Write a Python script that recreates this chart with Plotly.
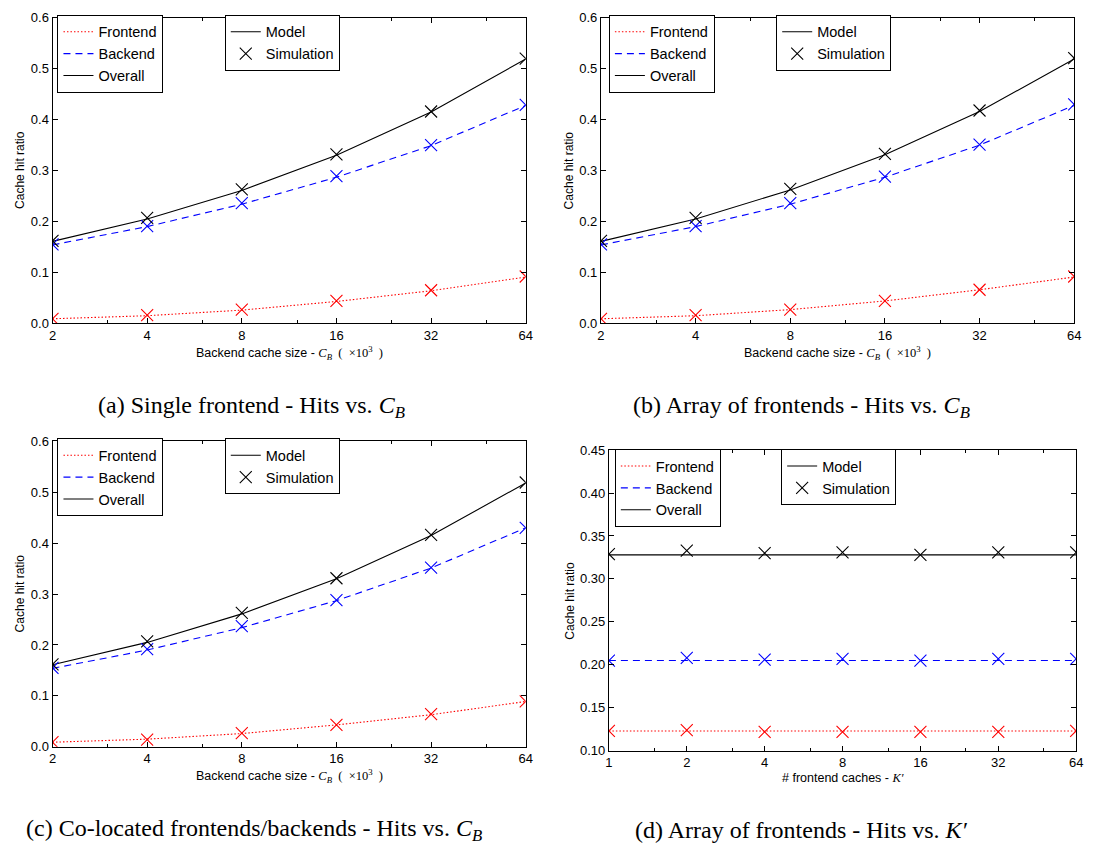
import math
import plotly.graph_objects as go

# ---------------- data ----------------
cb_sizes = [2, 4, 8, 16, 32, 64]
k_fronts = [1, 2, 4, 8, 16, 32, 64]
cb_ticks = ["2", "4", "8", "16", "32", "64"]
k_ticks = ["1", "2", "4", "8", "16", "32", "64"]

# (a) Single frontend
a_front_model = [0.009, 0.015, 0.026, 0.043, 0.064, 0.091]
a_front_sim = [0.009, 0.016, 0.027, 0.044, 0.065, 0.092]
a_back_model = [0.154, 0.190, 0.234, 0.287, 0.349, 0.428]
a_back_sim = [0.155, 0.191, 0.236, 0.289, 0.350, 0.429]
a_over_model = [0.161, 0.205, 0.261, 0.330, 0.415, 0.519]
a_over_sim = [0.162, 0.207, 0.263, 0.332, 0.416, 0.520]

# (b) Array of frontends
b_front_model = [0.009, 0.015, 0.027, 0.044, 0.066, 0.091]
b_front_sim = [0.009, 0.016, 0.027, 0.044, 0.066, 0.092]
b_back_model = [0.154, 0.190, 0.234, 0.287, 0.350, 0.428]
b_back_sim = [0.155, 0.191, 0.236, 0.288, 0.351, 0.430]
b_over_model = [0.161, 0.205, 0.262, 0.331, 0.416, 0.519]
b_over_sim = [0.162, 0.207, 0.264, 0.333, 0.418, 0.521]

# (c) Co-located frontends/backends
c_front_model = [0.009, 0.015, 0.026, 0.043, 0.063, 0.089]
c_front_sim = [0.009, 0.014, 0.027, 0.043, 0.064, 0.089]
c_back_model = [0.154, 0.190, 0.234, 0.287, 0.351, 0.430]
c_back_sim = [0.155, 0.192, 0.237, 0.288, 0.352, 0.430]
c_over_model = [0.161, 0.205, 0.261, 0.330, 0.415, 0.518]
c_over_sim = [0.162, 0.207, 0.263, 0.331, 0.416, 0.519]

# (d) Array of frontends vs K'
d_front_model = [0.123, 0.123, 0.123, 0.123, 0.123, 0.123, 0.123]
d_front_sim = [0.123, 0.124, 0.122, 0.122, 0.122, 0.122, 0.123]
d_back_model = [0.205, 0.205, 0.205, 0.205, 0.205, 0.205, 0.205]
d_back_sim = [0.205, 0.208, 0.206, 0.207, 0.205, 0.207, 0.207]
d_over_model = [0.328, 0.328, 0.328, 0.328, 0.328, 0.328, 0.328]
d_over_sim = [0.329, 0.333, 0.330, 0.331, 0.328, 0.331, 0.331]

series_names = ["Frontend", "Backend", "Overall"]
captions = [
    "(a) Single frontend - Hits vs. <i>C</i><sub><i>B</i></sub>",
    "(b) Array of frontends - Hits vs. <i>C</i><sub><i>B</i></sub>",
    "(c) Co-located frontends/backends - Hits vs. <i>C</i><sub><i>B</i></sub>",
    "(d) Array of frontends - Hits vs. <i>K\u2032</i>",
]
xtitle_cb = ("Backend cache size - <span style='font-family:Liberation Serif'><i>C</i>"
             "<sub><i>B</i></sub>  (  \u00d710<sup>3</sup>  )</span>")
xtitle_k = "# frontend caches - <span style='font-family:Liberation Serif'><i>K\u2032</i></span>"
ytitle = "Cache hit ratio"

# ---------------- style ----------------
W, H = 1100, 856
colors = ["#ff0000", "#0000ff", "#000000"]
dashes = ["1.5px,2px", "7px,5px", "solid"]
SANS = "Liberation Sans, Arial, sans-serif"
SERIF = "Liberation Serif, Times New Roman, serif"

# panel boxes in pixels: x0, x1, ytop, ybottom
boxes = [
    (49, 527, 11, 322),
    (603, 1081, 11, 322),
    (49, 527, 442, 753),
    (611, 1083, 451, 757),
]
# legend top-left in pixels (legend1, legend2)
legpos = [
    ((54, 8), (223, 8)),
    ((611, 8), (780, 8)),
    ((54, 439), (223, 439)),
    ((617, 450), (785, 450)),
]
caption_pos = [(250, 407), (806, 407), (253, 838), (806, 838)]
xtitle_pos = [(288, 352), (842, 352), (288, 783), (847, 785)]
ytitle_pos = [(16, 166), (571, 166), (16, 597), (572, 604)]

panels = [
    (cb_sizes, cb_ticks, [a_front_model, a_back_model, a_over_model], [a_front_sim, a_back_sim, a_over_sim]),
    (cb_sizes, cb_ticks, [b_front_model, b_back_model, b_over_model], [b_front_sim, b_back_sim, b_over_sim]),
    (cb_sizes, cb_ticks, [c_front_model, c_back_model, c_over_model], [c_front_sim, c_back_sim, c_over_sim]),
    (k_fronts, k_ticks, [d_front_model, d_back_model, d_over_model], [d_front_sim, d_back_sim, d_over_sim]),
]

fig = go.Figure()
layout = dict(
    width=W, height=H, margin=dict(l=0, r=0, t=0, b=0),
    paper_bgcolor="white", plot_bgcolor="white",
    font=dict(family=SANS, color="black"),
    annotations=[],
)


def px_x(x):
    return x / W


def px_y(y):
    return 1 - y / H


for i, (xs, xt, models, sims) in enumerate(panels):
    n = i + 1
    xa = "x" if n == 1 else f"x{n}"
    ya = "y" if n == 1 else f"y{n}"
    leg1 = "legend" if n == 1 else f"legend{2 * n - 1}"
    leg2 = f"legend{2 * n}"
    for j in range(3):
        fig.add_trace(go.Scatter(
            x=xs, y=models[j], mode="lines", name=series_names[j],
            line=dict(color=colors[j], width=1.1, dash=dashes[j]),
            xaxis=xa, yaxis=ya, legend=leg1, showlegend=True, hoverinfo="skip"))
    for j in range(3):
        fig.add_trace(go.Scatter(
            x=xs, y=sims[j], mode="markers", name="Simulation",
            marker=dict(symbol="x-thin", size=12, line=dict(color=colors[j], width=1.1)),
            xaxis=xa, yaxis=ya, showlegend=False, hoverinfo="skip"))
    # second legend (Model / Simulation)
    fig.add_trace(go.Scatter(
        x=[None], y=[None], mode="lines", name="Model",
        line=dict(color="black", width=1.1), xaxis=xa, yaxis=ya, legend=leg2, showlegend=True))
    fig.add_trace(go.Scatter(
        x=[None], y=[None], mode="markers", name="Simulation",
        marker=dict(symbol="x-thin", size=12, line=dict(color="black", width=1.1)),
        xaxis=xa, yaxis=ya, legend=leg2, showlegend=True))

    x0, x1, yt, yb = boxes[i]
    is_d = (i == 3)
    minor_vals = [1.5, 3, 6, 12, 24, 48] if is_d else [3, 6, 12, 24, 48]
    xkey = "xaxis" if n == 1 else f"xaxis{n}"
    ykey = "yaxis" if n == 1 else f"yaxis{n}"
    layout[xkey] = dict(
        domain=[px_x(x0), px_x(x1)], anchor=ya, type="log",
        range=[math.log10(xs[0]), math.log10(xs[-1])],
        tickvals=xs, ticktext=xt, ticks="inside", ticklen=5, tickwidth=1, tickcolor="black",
        showline=True, linecolor="black", linewidth=1, mirror="allticks", showgrid=False,
        zeroline=False, tickfont=dict(size=13, family=SANS),
        minor=dict(tickvals=minor_vals, ticks="inside", ticklen=3, tickwidth=1,
                   tickcolor="black", showgrid=False),
    )
    if is_d:
        yrange, dtick, fmt = [0.10, 0.45], 0.05, ".2f"
    else:
        yrange, dtick, fmt = [0.0, 0.6], 0.1, ".1f"
    layout[ykey] = dict(
        domain=[px_y(yb), px_y(yt)], anchor=xa, range=yrange, dtick=dtick, tick0=0,
        tickformat=fmt, ticks="inside", ticklen=5, tickwidth=1, tickcolor="black",
        showline=True, linecolor="black", linewidth=1, mirror="allticks", showgrid=False,
        zeroline=False, tickfont=dict(size=13, family=SANS),
    )
    (l1x, l1y), (l2x, l2y) = legpos[i]
    for key, lx, ly in ((leg1, l1x, l1y), (leg2, l2x, l2y)):
        layout[key] = dict(
            x=px_x(lx), y=px_y(ly), xanchor="left", yanchor="top", xref="paper", yref="paper",
            bgcolor="white", bordercolor="black", borderwidth=1,
            font=dict(size=14.5, family=SANS), traceorder="normal", itemwidth=30,
        )
    # texts
    cx, cy = caption_pos[i]
    layout["annotations"].append(dict(
        x=px_x(cx), y=px_y(cy), xref="paper", yref="paper", text=captions[i], showarrow=False,
        xanchor="center", yanchor="middle", font=dict(family=SERIF, size=24)))
    tx, ty = xtitle_pos[i]
    layout["annotations"].append(dict(
        x=px_x(tx), y=px_y(ty), xref="paper", yref="paper",
        text=xtitle_k if is_d else xtitle_cb, showarrow=False,
        xanchor="center", yanchor="middle", font=dict(family=SANS, size=12.5)))
    yx, yy = ytitle_pos[i]
    layout["annotations"].append(dict(
        x=px_x(yx), y=px_y(yy), xref="paper", yref="paper", text=ytitle, showarrow=False,
        textangle=-90, xanchor="center", yanchor="middle", font=dict(family=SANS, size=12)))

fig.update_layout(**layout)
fig.write_html("out.html")
